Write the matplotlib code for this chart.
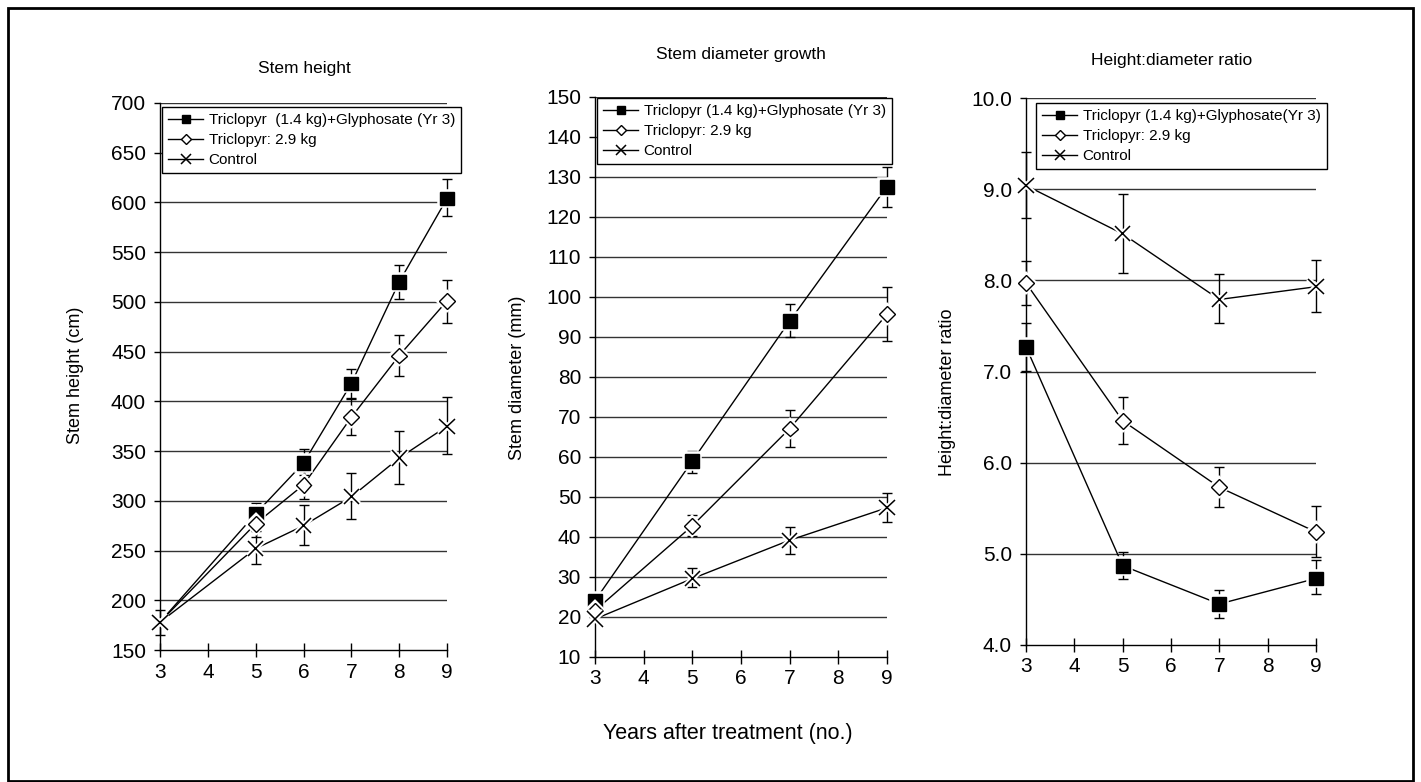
import numpy as np
import matplotlib
matplotlib.use('Agg')
import matplotlib.pyplot as plt
import matplotlib.patheffects as pe
from matplotlib.lines import Line2D
from matplotlib.patches import Rectangle

plt.rcParams['font.family'] = ['Liberation Sans', 'DejaVu Sans']

nan = np.nan

# stem height (cm)
years_h = [3, 5, 6, 7, 8, 9]
height_combo = [178, 287, 338, 418, 520, 604]
height_combo_lo = [nan, 276, 326, 403, 503, 586]
height_combo_hi = [nan, 298, 352, 433, 537, 624]
height_tric = [178, 277, 316, 384, 446, 501]
height_tric_lo = [nan, 264, 302, 366, 426, 479]
height_tric_hi = [nan, 290, 330, 402, 467, 522]
height_ctrl = [178, 252, 275, 304, 343, 375]
height_ctrl_lo = [165, 236, 256, 282, 317, 347]
height_ctrl_hi = [190, 270, 296, 328, 370, 404]

# stem diameter (mm)
years_d = [3, 5, 7, 9]
diam_combo = [24.1, 59.0, 94.0, 127.6]
diam_combo_lo = [nan, 56.0, 90.1, 122.6]
diam_combo_hi = [nan, 61.5, 98.2, 132.5]
diam_tric = [21.6, 42.8, 67.1, 95.7]
diam_tric_lo = [nan, 40.2, 62.6, 88.9]
diam_tric_hi = [nan, 45.5, 71.7, 102.6]
diam_ctrl = [19.5, 29.6, 39.2, 47.3]
diam_ctrl_lo = [nan, 27.5, 35.8, 43.7]
diam_ctrl_hi = [nan, 32.2, 42.4, 51.0]

# height:diameter ratio
years_r = [3, 5, 7, 9]
ratio_combo = [7.27, 4.87, 4.45, 4.73]
ratio_combo_lo = [7.01, 4.72, 4.30, 4.56]
ratio_combo_hi = [7.53, 5.02, 4.60, 4.93]
ratio_tric = [7.97, 6.46, 5.73, 5.24]
ratio_tric_lo = [7.73, 6.21, 5.51, 4.97]
ratio_tric_hi = [8.21, 6.72, 5.95, 5.52]
ratio_ctrl = [9.04, 8.51, 7.79, 7.93]
ratio_ctrl_lo = [8.68, 8.08, 7.53, 7.65]
ratio_ctrl_hi = [9.41, 8.95, 8.07, 8.22]

W, H = 1421, 782
fig = plt.figure(figsize=(W / 100, H / 100), dpi=100)

def px_axes(left, top, right, bottom):
    return fig.add_axes([left / W, 1 - bottom / H, (right - left) / W, (bottom - top) / H])

styles = [
    dict(marker='s', ms=10, mfc='black', mec='black', mew=1),
    dict(marker='D', ms=8, mfc='white', mec='black', mew=1),
    dict(marker='x', ms=11, mfc='none', mec='black', mew=1.1),
]
leg_sizes = [6, 5.5, 7]

def draw_panel(ax, x, series, ylim, step, fmt, labels, leg_pos, skip_first=()):
    for i, (y, lo, hi) in enumerate(series):
        y = np.array(y, float)
        lo = np.array(lo, float)
        hi = np.array(hi, float)
        ax.plot(x, y, color='black', lw=1, zorder=3, clip_on=False)
        ok = ~np.isnan(lo)
        xs = np.array(x)[ok]
        ax.errorbar(xs, y[ok], yerr=[y[ok] - lo[ok], hi[ok] - y[ok]], fmt='none',
                    ecolor='black', elinewidth=1, capsize=3.5, capthick=1,
                    zorder=3, clip_on=False)
        mk = list(range(len(x)))
        if i in skip_first:
            mk = mk[1:]
        ax.plot(x, y, ls='none', markevery=mk, zorder=4, clip_on=False,
                path_effects=[pe.Stroke(linewidth=4, foreground='white'), pe.Normal()],
                **styles[i])
    ax.set_xlim(3, 9)
    ax.set_ylim(*ylim)
    ax.set_xticks(range(3, 10))
    ticks = np.arange(ylim[0], ylim[1] + step / 2, step)
    ax.set_yticks(ticks)
    ax.set_yticklabels([fmt.format(t) for t in ticks])
    for t in ticks[1:]:
        ax.axhline(t, color='0.2', lw=1, zorder=1)
    for s in ['top', 'right']:
        ax.spines[s].set_visible(False)
    for s in ['left', 'bottom']:
        ax.spines[s].set_linewidth(1)
    ax.tick_params(axis='y', direction='out', length=4, width=1, labelsize=15, pad=6)
    ax.tick_params(axis='x', direction='inout', length=10, width=1, labelsize=15, pad=4)
    handles = []
    for st, sz in zip(styles, leg_sizes):
        st = dict(st)
        st['ms'] = sz
        handles.append(Line2D([0], [0], color='black', lw=1, **st))
    leg = ax.legend(handles, labels, loc='upper left',
                    bbox_to_anchor=(leg_pos[0] / W, 1 - leg_pos[1] / H),
                    bbox_transform=fig.transFigure, fontsize=11, frameon=True,
                    fancybox=False, edgecolor='black', framealpha=1,
                    handlelength=2.3, handletextpad=0.35, borderpad=0.4,
                    labelspacing=0.4, borderaxespad=0, numpoints=1)
    leg.get_frame().set_linewidth(1)
    leg.set_zorder(5)

ax1 = px_axes(160, 103, 447, 650)
draw_panel(ax1, years_h,
           [(height_combo, height_combo_lo, height_combo_hi),
            (height_tric, height_tric_lo, height_tric_hi),
            (height_ctrl, height_ctrl_lo, height_ctrl_hi)],
           (150, 700), 50, '{:.0f}',
           ['Triclopyr  (1.4 kg)+Glyphosate (Yr 3)', 'Triclopyr: 2.9 kg', 'Control'],
           (162, 107), skip_first=(0, 1))

ax2 = px_axes(595, 97, 887, 657)
draw_panel(ax2, years_d,
           [(diam_combo, diam_combo_lo, diam_combo_hi),
            (diam_tric, diam_tric_lo, diam_tric_hi),
            (diam_ctrl, diam_ctrl_lo, diam_ctrl_hi)],
           (10, 150), 10, '{:.0f}',
           ['Triclopyr (1.4 kg)+Glyphosate (Yr 3)', 'Triclopyr: 2.9 kg', 'Control'],
           (597, 98))

ax3 = px_axes(1026, 98, 1316, 645)
draw_panel(ax3, years_r,
           [(ratio_combo, ratio_combo_lo, ratio_combo_hi),
            (ratio_tric, ratio_tric_lo, ratio_tric_hi),
            (ratio_ctrl, ratio_ctrl_lo, ratio_ctrl_hi)],
           (4.0, 10.0), 1.0, '{:.1f}',
           ['Triclopyr (1.4 kg)+Glyphosate(Yr 3)', 'Triclopyr: 2.9 kg', 'Control'],
           (1036, 103))

# axis labels and titles placed in figure pixels
fig.text(76 / W, 1 - 375 / H, 'Stem height (cm)', rotation=90, ha='center', va='center', fontsize=13)
fig.text(518 / W, 1 - 378 / H, 'Stem diameter (mm)', rotation=90, ha='center', va='center', fontsize=13)
fig.text(948 / W, 1 - 392 / H, 'Height:diameter ratio', rotation=90, ha='center', va='center', fontsize=13)

fig.text(304 / W, 1 - 68 / H, 'Stem height', ha='center', va='center', fontsize=12.5)
fig.text(741 / W, 1 - 55 / H, 'Stem diameter growth', ha='center', va='center', fontsize=12.5)
fig.text(1172 / W, 1 - 60 / H, 'Height:diameter ratio', ha='center', va='center', fontsize=12.5)
fig.text(728 / W, 1 - 733 / H, 'Years after treatment (no.)', ha='center', va='center', fontsize=15.5)

fig.patches.append(Rectangle((8 / W, 1 - 781 / H), 1405 / W, 773 / H, transform=fig.transFigure,
                             fill=False, edgecolor='black', lw=2))

fig.savefig('out.png', dpi=100)
